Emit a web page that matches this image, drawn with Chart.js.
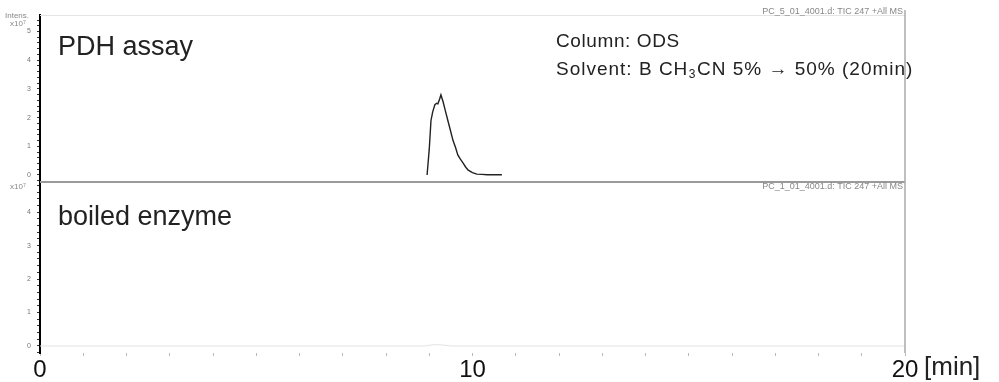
<!DOCTYPE html>
<html>
<head>
<meta charset="utf-8">
<script src="https://cdn.jsdelivr.net/npm/chart.js@4"></script>
<style>
  html, body { margin: 0; background: #fff; }
  #wrap { width: 999px; height: 382px; }
</style>
</head>
<body>
<div id="wrap"><canvas id="chart"></canvas></div>
<script>
// PDH assay trace (min, x10^7)
const timePDH = [8.95, 9.00, 9.04, 9.08, 9.13, 9.17, 9.20, 9.24, 9.27, 9.32, 9.37, 9.43, 9.49, 9.55, 9.61, 9.66, 9.72, 9.78, 9.84, 9.90, 10.00, 10.10, 10.22, 10.34, 10.50, 10.68];
const intensPDH = [0.00, 0.90, 1.90, 2.20, 2.45, 2.50, 2.48, 2.65, 2.79, 2.55, 2.25, 1.90, 1.55, 1.20, 0.95, 0.70, 0.55, 0.42, 0.28, 0.17, 0.08, 0.03, 0.02, 0.01, 0.01, 0.01];

// boiled enzyme trace (flat)
const timeBoiled = [0, 8.9, 9.1, 9.3, 9.5, 20];
const intensBoiled = [0, 0, 0.04, 0.03, 0, 0];

const xLabels = [0, 10, 20];

const toPoints = (xs, ys) => xs.map((x, i) => ({ x: x, y: ys[i] }));

const intLabel = v => {
    const r = Math.round(v);
    return Math.abs(v - r) < 1e-6 ? r : '';
};

const yScale = (min, max) => ({
    type: 'linear', position: 'left', stack: 'panels',
    min: min, max: max,
    border: { color: '#000', width: 2 },
    grid: { drawOnChartArea: false, color: '#333', tickLength: 3 },
    ticks: { stepSize: 0.2, includeBounds: false, autoSkip: false, padding: 6, color: '#777', font: { size: 7 }, callback: intLabel },
    afterFit: s => { s.width = 40; }
});

const decor = {
    id: 'decor',
    afterDraw(chart) {
        const c = chart.ctx;
        const a = chart.chartArea;
        const top = chart.scales.yTop;
        const fam = '"Liberation Sans", Arial, sans-serif';
        c.save();
        // frame lines
        c.strokeStyle = '#e4e4e4'; c.lineWidth = 1;
        c.beginPath(); c.moveTo(a.left, a.top + 0.5); c.lineTo(a.right, a.top + 0.5); c.stroke();
        c.strokeStyle = '#9a9a9a'; c.lineWidth = 2;
        c.beginPath(); c.moveTo(a.left, top.bottom); c.lineTo(a.right, top.bottom); c.stroke();
        c.strokeStyle = '#aaa'; c.lineWidth = 1.5;
        c.beginPath(); c.moveTo(a.right, a.top - 5); c.lineTo(a.right, a.bottom); c.stroke();

        c.fillStyle = '#222';
        c.textBaseline = 'middle';
        c.textAlign = 'left';
        c.font = '27px ' + fam;
        c.fillText('PDH assay', 58, 48);
        c.fillText('boiled enzyme', 58, 218);

        c.font = '19px ' + fam;
        c.letterSpacing = '0.6px';
        c.fillText('Column: ODS', 556, 42);
        c.letterSpacing = '1px';
        let x = 556;
        const s1 = 'Solvent: B CH';
        c.fillText(s1, x, 70);
        x += c.measureText(s1).width;
        c.font = '12px ' + fam;
        c.fillText('3', x + 0.5, 75);
        x += c.measureText('3').width + 1;
        c.font = '19px ' + fam;
        c.fillText('CN 5% \u2192 50% (20min)', x, 70);
        c.letterSpacing = '0px';

        c.font = '26px ' + fam;
        c.fillText('[min]', 924, 368);

        // small header texts
        c.fillStyle = '#888';
        c.font = '9px ' + fam;
        c.textAlign = 'right';
        c.fillText('PC_5_01_4001.d: TIC 247 +All MS', a.right - 2, 12);
        c.fillText('PC_1_01_4001.d: TIC 247 +All MS', a.right - 2, top.bottom + 5);
        c.font = '8px ' + fam;
        c.textAlign = 'left';
        c.fillText('Intens.', 5, 16);
        c.fillText('x10\u2077', 10, 24);
        c.fillText('x10\u2077', 10, top.bottom + 5);
        c.restore();
    }
};

new Chart(document.getElementById('chart'), {
    type: 'scatter',
    data: {
        datasets: [
            {
                label: 'boiled enzyme', yAxisID: 'yBot',
                data: toPoints(timeBoiled, intensBoiled),
                showLine: true, borderColor: '#e2e2e2', borderWidth: 1, pointRadius: 0
            },
            {
                label: 'PDH assay', yAxisID: 'yTop',
                data: toPoints(timePDH, intensPDH),
                showLine: true, borderColor: '#222', borderWidth: 1.4, pointRadius: 0
            }
        ]
    },
    options: {
        responsive: true, maintainAspectRatio: false, animation: false,
        layout: { padding: { top: 15, right: 94, left: 0, bottom: 0 } },
        plugins: { legend: { display: false }, tooltip: { enabled: false } },
        scales: {
            x: {
                type: 'linear', min: 0, max: 20,
                border: { display: false },
                grid: { drawOnChartArea: false, color: '#bbb', tickLength: 3 },
                ticks: {
                    stepSize: 1, padding: 0, color: '#111', maxRotation: 0, autoSkip: false,
                    font: { size: 24, family: '"Liberation Sans", Arial, sans-serif' },
                    callback: v => xLabels.includes(v) ? v : ''
                },
                afterFit: s => { s.height = 29; }
            },
            yBot: Object.assign(yScale(-0.21, 4.9), { stackWeight: 171 }),
            yTop: Object.assign(yScale(-0.244, 5.575), { stackWeight: 167 })
        }
    },
    plugins: [decor]
});
</script>
</body>
</html>
